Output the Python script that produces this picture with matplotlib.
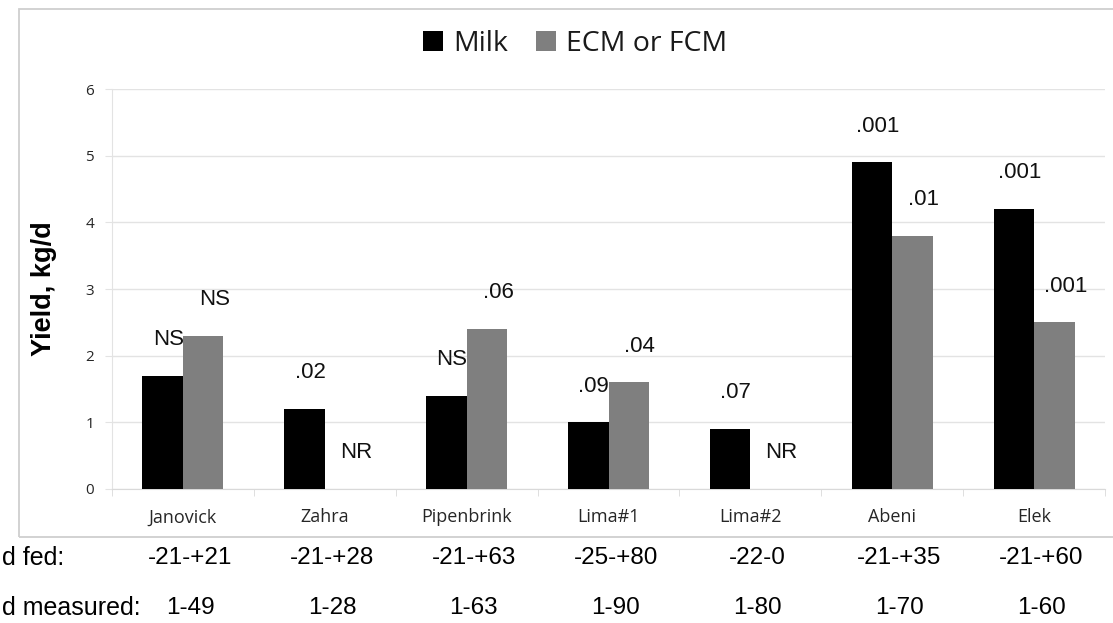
import numpy as np
import matplotlib
matplotlib.use("Agg")
import matplotlib.pyplot as plt
from matplotlib.patches import Rectangle
from matplotlib.transforms import blended_transform_factory

# Studies and yield responses (kg/d)
studies = ["Janovick", "Zahra", "Pipenbrink", "Lima#1", "Lima#2", "Abeni", "Elek"]
milk = [1.7, 1.2, 1.4, 1.0, 0.9, 4.9, 4.2]
ecm = [2.3, 0.0, 2.4, 1.6, 0.0, 3.8, 2.5]

# P-values / notes shown above the bars
milk_notes = ["NS", ".02", "NS", ".09", ".07", ".001", ".001"]
ecm_notes = ["NS", "NR", ".06", ".04", "NR", ".01", ".001"]

# Rows of text under the chart
d_fed = ["-21-+21", "-21-+28", "-21-+63", "-25-+80", "-22-0", "-21-+35", "-21-+60"]
d_measured = ["1-49", "1-28", "1-63", "1-90", "1-80", "1-70", "1-60"]

W, H = 1113, 623
fig = plt.figure(figsize=(W / 100, H / 100), dpi=100)
fig.patch.set_facecolor("white")

# chart area border (like an Excel chart frame)
fig.patches.append(Rectangle((19 / W, 1 - 537 / H), 1.2, (537 - 9) / H,
                             transform=fig.transFigure, fill=False,
                             edgecolor="#cfcfcf", linewidth=1.3))

ax = fig.add_axes([112 / W, 1 - 489 / H, (1105 - 112) / W, (489 - 89) / H])

x = np.arange(len(studies))
bw = 0.285
ax.bar(x - bw / 2, milk, bw, color="#000000", label="Milk", zorder=3)
ax.bar(x + bw / 2, ecm, bw, color="#7f7f7f", label="ECM or FCM", zorder=3)

ax.set_xlim(-0.5, len(studies) - 0.5)
ax.set_ylim(0, 6)
ax.set_yticks(range(0, 7))
ax.yaxis.grid(True, color="#e3e3e3", linewidth=1.0, zorder=0)
ax.set_axisbelow(True)

for s in ["top", "right"]:
    ax.spines[s].set_visible(False)
ax.spines["left"].set_color("#e3e3e3")
ax.spines["bottom"].set_color("#d9d9d9")

ax.tick_params(axis="y", length=5, color="#e3e3e3", labelsize=11, pad=8)
ax.set_xticks(x)
ax.set_xticklabels(studies)
ax.tick_params(axis="x", length=0, labelsize=13, pad=14)
ax.set_xticks(np.arange(-0.5, len(studies)), minor=True)
ax.tick_params(axis="x", which="minor", length=5, color="#d9d9d9")
for lab in ax.get_xticklabels() + ax.get_yticklabels():
    lab.set_family("Open Sans")
    lab.set_color("#262626")

ax.set_ylabel("Yield, kg/d", family="Liberation Sans", fontweight="bold",
              fontsize=19.5, labelpad=20)

# notes above the bars
for i in range(len(studies)):
    ax.annotate(milk_notes[i], (x[i] - bw / 2, milk[i]), xytext=(4, 26),
                textcoords="offset points", ha="center", va="center",
                family="Liberation Sans", fontsize=16, color="#111111")
    ax.annotate(ecm_notes[i], (x[i] + bw / 2, ecm[i]), xytext=(8, 26),
                textcoords="offset points", ha="center", va="center",
                family="Liberation Sans", fontsize=16, color="#111111")

leg = fig.legend(loc="center", bbox_to_anchor=(575 / W, 1 - 44 / H), ncol=2,
                 frameon=False, prop={"family": "Open Sans", "size": 20.5},
                 handlelength=0.7, handleheight=0.7, handletextpad=0.35,
                 columnspacing=1.0)
for t in leg.get_texts():
    t.set_color("#1a1a1a")

# rows under the chart
trans = blended_transform_factory(ax.transData, fig.transFigure)
fig.text(2 / W, 1 - 558 / H, "d fed:", family="Liberation Sans",
         fontsize=18, va="center", ha="left")
fig.text(2 / W, 1 - 608 / H, "d measured:", family="Liberation Sans",
         fontsize=18, va="center", ha="left")
for i in range(len(studies)):
    ax.text(x[i] + 0.05, 1 - 558 / H, d_fed[i], transform=trans,
            family="Liberation Sans", fontsize=17.5, ha="center", va="center")
    ax.text(x[i] + 0.05, 1 - 608 / H, d_measured[i], transform=trans,
            family="Liberation Sans", fontsize=17.5, ha="center", va="center")

fig.savefig("out.png", dpi=100)
